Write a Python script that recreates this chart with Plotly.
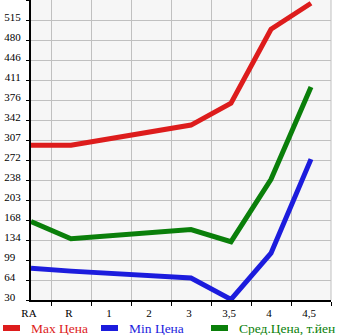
import plotly.graph_objects as go

categories = ["RA", "R", "1", "2", "3", "3,5", "4", "4,5"]
max_price = [298, 298, None, None, 333, 371, 499, 544]
min_price = [85, 80, None, None, 68, 31, 111, 274]
avg_price = [166, 136, None, None, 152, 131, 239, 399]

y_ticks = [30, 64.64, 99.29, 133.93, 168.57, 203.21, 237.86, 272.5,
           307.14, 341.79, 376.43, 411.07, 445.71, 480.36, 515]
y_labels = ["30", "64", "99", "134", "168", "203", "238", "272",
            "307", "342", "376", "411", "446", "480", "515"]
y_top = 549.64

x_idx = list(range(len(categories)))

series = [
    ("Max Цена", max_price, "#dd1c1c"),
    ("Min Цена", min_price, "#1c1cdd"),
    ("Сред.Цена, т.йен", avg_price, "#0a7f0a"),
]
legend_x = [0, 98, 208]  # pixel offsets of legend items in the 345px page

W, H = 345, 335
ML, MR, MT, MB = 31, 14, 0, 35
pw = W - ML - MR
ph = H - MT - MB

font = "Liberation Serif, Times New Roman, serif"

fig = go.Figure()
for (name, vals, col), lx in zip(series, legend_x):
    fig.add_trace(go.Scatter(
        x=x_idx, y=vals, mode="lines", connectgaps=True,
        line=dict(color=col, width=5), name=name, showlegend=False,
    ))
    # legend swatch and label
    x0 = (lx + 3 - ML) / pw
    x1 = (lx + 20 - ML) / pw
    yy = -(328 - (H - MB)) / ph
    fig.add_shape(type="line", xref="paper", yref="paper", x0=x0, x1=x1, y0=yy, y1=yy,
                  line=dict(color=col, width=6))
    fig.add_annotation(xref="paper", yref="paper", x=(lx + 29 - ML) / pw, y=yy,
                       xanchor="left", yanchor="middle", text=name, showarrow=False,
                       font=dict(family=font, size=13.5, color=col))

pad = lambda s: s if len(s) >= 3 else s + "\u00a0\u00a0"

fig.update_layout(
    width=W, height=H,
    margin=dict(l=ML, r=MR, t=MT, b=MB, autoexpand=False),
    paper_bgcolor="white",
    plot_bgcolor="#f6f6f6",
    font=dict(family=font, size=11, color="black"),
    showlegend=False,
    xaxis=dict(
        range=[0, 7.5], tickvals=x_idx, ticktext=categories,
        showgrid=False, ticks="", zeroline=False,
        showline=True, linecolor="black", linewidth=2,
        ticklabelshift=-2, ticklabelstandoff=2,
        minor=dict(tickvals=[i + 0.5 for i in x_idx], ticks="outside", ticklen=4,
                   tickcolor="black", showgrid=True, gridcolor="#c0c0c0", gridwidth=1),
        fixedrange=True,
    ),
    yaxis=dict(
        range=[30, y_top], tickvals=y_ticks + [y_top],
        ticktext=[pad(s) for s in y_labels] + [""],
        showgrid=True, gridcolor="#c0c0c0", gridwidth=1,
        ticks="outside", ticklen=3, tickcolor="black",
        zeroline=False, showline=True, linecolor="black", linewidth=2,
        ticklabelshift=-3, ticklabelstandoff=3,
        fixedrange=True,
    ),
)
fig.add_shape(type="line", xref="paper", yref="paper", x0=1, x1=1, y0=0, y1=1,
              line=dict(color="#c0c0c0", width=1))

fig.write_html("out.html")
